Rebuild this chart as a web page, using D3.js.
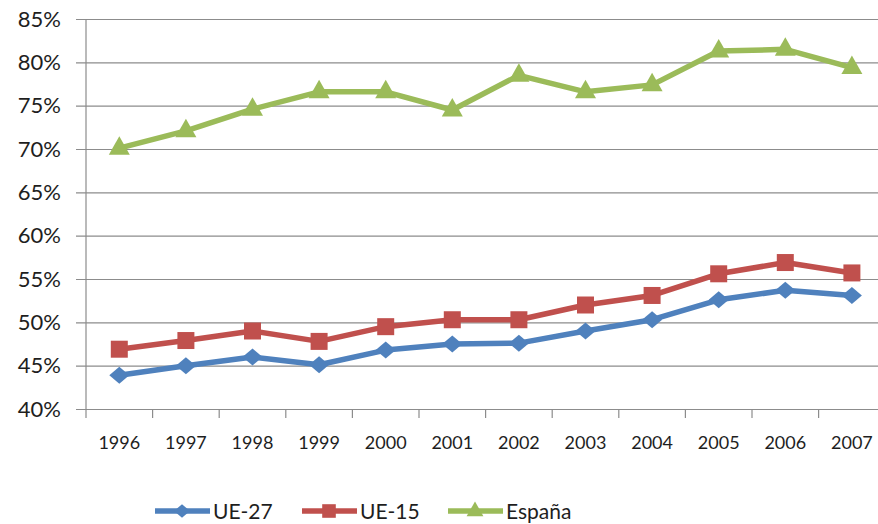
<!DOCTYPE html>
<html>
<head>
<meta charset="utf-8">
<script src="https://cdn.jsdelivr.net/npm/d3@7"></script>
<style>
  body { margin: 0; background: #fff; }
  svg text { font-family: Lato, "Open Sans", sans-serif; fill: #1e1e1e; }
</style>
</head>
<body>
<div id="chart"></div>
<script>
// years on the category axis
var years = ["1996","1997","1998","1999","2000","2001","2002","2003","2004","2005","2006","2007"];
var yTicks = [40, 45, 50, 55, 60, 65, 70, 75, 80, 85];

// values in percent
var ue27   = [43.9, 45.0, 46.0, 45.1, 46.8, 47.5, 47.6, 49.0, 50.3, 52.6, 53.7, 53.1];
var ue15   = [46.9, 47.9, 49.0, 47.8, 49.5, 50.3, 50.3, 52.0, 53.1, 55.6, 56.9, 55.7];
var espana = [70.1, 72.1, 74.6, 76.6, 76.6, 74.5, 78.5, 76.6, 77.4, 81.3, 81.5, 79.4];

var seriesNames = ["UE-27", "UE-15", "España"];
var seriesColors = ["#4f81bd", "#c0504d", "#9bbb59"];

var width = 878, height = 524;
var plotLeft = 86, plotTop = 19, plotBottom = 409;

// excel-like markers, k scales them
function marker(s, k) {
	var p = d3.path();
	if (s === 0) {
		p.moveTo(0, -8.5 * k); p.lineTo(10 * k, 0); p.lineTo(0, 8.5 * k); p.lineTo(-10 * k, 0);
	} else if (s === 1) {
		p.rect(-8.5 * k, -8.5 * k, 17 * k, 17 * k);
	} else {
		p.moveTo(0, -12 * k); p.lineTo(10.5 * k, 6.5 * k); p.lineTo(-10.5 * k, 6.5 * k);
	}
	p.closePath();
	return p.toString();
}

var svg = d3.select("#chart").append("svg")
	.attr("width", width)
	.attr("height", height);

var x = d3.scaleBand().domain(years).range([plotLeft, plotLeft + 12 * 66.6]);
var y = d3.scaleLinear().domain([40, 85]).range([plotBottom, plotTop]);

// horizontal gridlines + y labels
var yAxis = d3.axisLeft(y)
	.tickValues(yTicks)
	.tickSize(-(width - plotLeft))
	.tickPadding(25)
	.tickFormat(function(d) { return d + "%"; });

var gy = svg.append("g")
	.attr("transform", "translate(" + plotLeft + ",0)")
	.call(yAxis);
gy.select(".domain").remove();
gy.selectAll(".tick line")
	.attr("x1", -10)
	.attr("stroke", "#8c8c8c")
	.attr("stroke-width", 1.2);
gy.selectAll(".tick text")
	.style("font-size", "22px");

// vertical axis line
svg.append("line")
	.attr("x1", plotLeft).attr("x2", plotLeft)
	.attr("y1", y(85)).attr("y2", y(40))
	.attr("stroke", "#8c8c8c")
	.attr("stroke-width", 1.2);

// category ticks at band edges
svg.append("g").selectAll("line")
	.data(years)
	.enter().append("line")
	.attr("x1", function(d) { return x(d); })
	.attr("x2", function(d) { return x(d); })
	.attr("y1", plotBottom)
	.attr("y2", plotBottom + 9)
	.attr("stroke", "#8c8c8c")
	.attr("stroke-width", 1.2);

svg.append("g").selectAll("text")
	.data(years)
	.enter().append("text")
	.attr("x", function(d) { return x(d) + x.bandwidth() / 2; })
	.attr("y", 449)
	.style("text-anchor", "middle")
	.style("font-size", "18px")
	.text(function(d) { return d; });

// series
var allSeries = [ue27, ue15, espana];
var line = d3.line()
	.x(function(d, i) { return x(years[i]) + x.bandwidth() / 2; })
	.y(function(d) { return y(d); });

allSeries.forEach(function(vals, s) {
	svg.append("path")
		.datum(vals)
		.attr("d", line)
		.attr("fill", "none")
		.attr("stroke", seriesColors[s])
		.attr("stroke-width", 5.5)
		.attr("stroke-linejoin", "round");

	svg.append("g").selectAll("path")
		.data(vals)
		.enter().append("path")
		.attr("transform", function(d, i) {
			return "translate(" + (x(years[i]) + x.bandwidth() / 2) + "," + y(d) + ")";
		})
		.attr("d", marker(s, 1))
		.attr("fill", seriesColors[s]);
});

// legend
var legendX = [155, 302, 448];
var legend = svg.selectAll(".legend")
	.data(seriesNames)
	.enter().append("g")
	.attr("class", "legend")
	.attr("transform", function(d, i) { return "translate(" + legendX[i] + ",511)"; });

legend.append("line")
	.attr("x1", 0).attr("x2", 55)
	.attr("stroke", function(d, i) { return seriesColors[i]; })
	.attr("stroke-width", 5.5);

legend.append("path")
	.attr("transform", "translate(27,0)")
	.attr("d", function(d, i) { return marker(i, 0.8); })
	.attr("fill", function(d, i) { return seriesColors[i]; });

legend.append("text")
	.attr("x", 58)
	.attr("y", 7.5)
	.style("font-size", "21px")
	.text(function(d) { return d; });
</script>
</body>
</html>
